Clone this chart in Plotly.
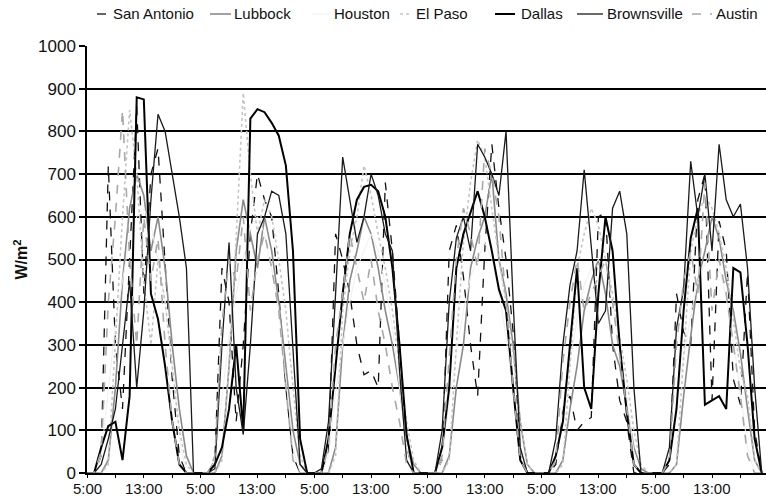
import plotly.graph_objects as go

# x categories: hourly samples 5:00..20:00 for 6 days (16 per day)
days = 6
x_idx = list(range(16 * days))
tick_vals = list(range(0, 16 * days, 8))
tick_text = ["5:00" if (v % 16) == 0 else "13:00" for v in tick_vals]

san_antonio = [
    0, 0, 40, 720, 300, 150, 500, 860, 420, 700, 760, 500, 220, 40, 0, 0,
    0, 0, 30, 480, 400, 120, 300, 560, 700, 640, 600, 420, 200, 40, 0, 0,
    0, 0, 50, 560, 500, 420, 300, 230, 240, 200, 680, 520, 300, 60, 0, 0,
    0, 0, 30, 520, 580, 460, 300, 180, 520, 770, 620, 500, 330, 50, 0, 0,
    0, 0, 20, 150, 180, 100, 120, 130, 600, 610, 300, 170, 120, 0, 0, 0,
    0, 0, 20, 420, 330, 300, 640, 700, 170, 590, 520, 220, 160, 470, 100, 0,
]
lubbock = [
    0, 0, 0, 30, 200, 450, 620, 700, 650, 520, 600, 480, 300, 150, 40, 0,
    0, 0, 0, 40, 250, 520, 640, 560, 480, 600, 520, 400, 250, 100, 20, 0,
    0, 0, 0, 60, 300, 450, 520, 600, 560, 480, 380, 300, 200, 80, 20, 0,
    0, 0, 0, 40, 200, 300, 480, 550, 600, 700, 500, 420, 300, 120, 20, 0,
    0, 0, 0, 30, 150, 250, 380, 450, 500, 420, 300, 250, 150, 60, 10, 0,
    0, 0, 0, 20, 180, 320, 450, 520, 600, 550, 450, 380, 280, 150, 30, 0,
]
houston = [
    0, 0, 40, 200, 350, 450, 550, 600, 620, 580, 500, 400, 250, 80, 0, 0,
    0, 0, 30, 180, 320, 420, 500, 580, 600, 560, 480, 380, 220, 60, 0, 0,
    0, 0, 40, 190, 300, 400, 480, 520, 560, 520, 440, 340, 200, 60, 0, 0,
    0, 0, 30, 170, 280, 380, 460, 500, 540, 500, 420, 320, 190, 50, 0, 0,
    0, 0, 30, 160, 260, 360, 440, 480, 500, 470, 400, 300, 180, 50, 0, 0,
    0, 0, 30, 170, 270, 370, 450, 490, 520, 480, 410, 310, 190, 60, 0, 0,
]
el_paso = [
    0, 0, 0, 20, 300, 600, 850, 700, 450, 300, 500, 400, 250, 100, 20, 0,
    0, 0, 0, 30, 250, 550, 890, 700, 560, 640, 600, 500, 380, 200, 40, 0,
    0, 0, 0, 40, 380, 520, 600, 720, 650, 560, 480, 380, 250, 120, 30, 0,
    0, 0, 0, 30, 300, 540, 680, 780, 740, 620, 500, 400, 280, 120, 20, 0,
    0, 0, 0, 20, 250, 480, 560, 620, 580, 500, 420, 320, 220, 100, 20, 0,
    0, 0, 0, 20, 280, 520, 600, 650, 620, 560, 480, 360, 240, 180, 30, 0,
]
dallas = [
    0, 0, 60, 110, 120, 30, 180, 880, 875, 420, 360, 250, 120, 20, 0, 0,
    0, 0, 20, 60, 150, 300, 100, 830, 852, 845, 820, 790, 720, 520, 80, 0,
    0, 0, 80, 250, 420, 560, 640, 670, 675, 660, 600, 480, 300, 90, 0, 0,
    0, 0, 60, 200, 480, 560, 610, 660, 600, 520, 430, 380, 200, 30, 0, 0,
    0, 0, 40, 120, 300, 480, 200, 150, 420, 600, 520, 300, 140, 20, 0, 0,
    0, 0, 30, 150, 380, 550, 620, 160, 170, 180, 150, 480, 470, 300, 80, 0,
]
brownsville = [
    0, 0, 20, 80, 150, 300, 450, 200, 380, 640, 840, 800, 700, 600, 480, 0,
    0, 0, 10, 300, 540, 200, 90, 300, 560, 600, 660, 650, 560, 300, 20, 0,
    0, 10, 120, 420, 740, 640, 540, 600, 700, 650, 560, 520, 240, 30, 0, 0,
    0, 0, 100, 400, 550, 600, 520, 770, 740, 700, 650, 800, 400, 60, 0, 0,
    0, 0, 80, 300, 440, 520, 710, 520, 350, 380, 620, 660, 560, 200, 0, 0,
    0, 0, 60, 340, 430, 730, 600, 700, 520, 770, 640, 600, 630, 480, 200, 0,
]
austin = [
    0, 0, 50, 400, 600, 850, 500, 300, 600, 450, 550, 300, 120, 20, 0, 0,
    0, 0, 40, 350, 500, 450, 600, 380, 500, 560, 480, 380, 200, 30, 0, 0,
    0, 0, 60, 300, 420, 560, 480, 400, 500, 380, 300, 200, 120, 20, 0, 0,
    0, 0, 40, 280, 500, 620, 560, 480, 760, 700, 600, 400, 200, 30, 0, 0,
    0, 0, 30, 260, 400, 500, 380, 420, 460, 500, 400, 280, 150, 20, 0, 0,
    0, 0, 30, 300, 450, 520, 420, 680, 380, 500, 420, 300, 180, 40, 0, 0,
]

series = [
    ("San Antonio", san_antonio, dict(color="#111111", width=1.3, dash="dash")),
    ("Lubbock", lubbock, dict(color="#8a8a8a", width=1.6, dash="solid")),
    ("Houston", houston, dict(color="#f0f0f0", width=1.0, dash="solid")),
    ("El Paso", el_paso, dict(color="#c4c4c4", width=1.6, dash="dot")),
    ("Dallas", dallas, dict(color="#000000", width=2.0, dash="solid")),
    ("Brownsville", brownsville, dict(color="#1a1a1a", width=1.3, dash="solid")),
    ("Austin", austin, dict(color="#a8a8a8", width=1.6, dash="dash")),
]

FONT = "Liberation Sans, Arial, sans-serif"

W, H = 766, 496
ML, MR, MT, MB = 87, 0, 46, 23
PW, PH = W - ML - MR, H - MT - MB

def px_x(px):
    return (px - ML) / PW

def px_y(py):
    return (H - MB - py) / PH

fig = go.Figure()
for name, vals, line in series:
    fig.add_trace(go.Scatter(x=x_idx, y=vals, mode="lines", name=name, line=line,
                             showlegend=False))

# legend drawn as shapes + text (line start px, line end px, text start px)
legend_pos = {
    "San Antonio": (97, 112, 111),
    "Lubbock": (210, 231, 232),
    "Houston": (312, 330, 332),
    "El Paso": (400, 411, 414),
    "Dallas": (495, 515, 519),
    "Brownsville": (577, 603, 605),
    "Austin": (692, 712, 714),
}
ly = 14
shapes = []
annotations = []
for name, vals, line in series:
    x0, x1, tx = legend_pos[name]
    shapes.append(dict(type="line", xref="paper", yref="paper",
                       x0=px_x(x0), x1=px_x(x1), y0=px_y(ly), y1=px_y(ly),
                       line=dict(color=line["color"], width=line["width"], dash=line["dash"])))
    annotations.append(dict(text=name, xref="paper", yref="paper", x=px_x(tx), y=px_y(ly),
                            xanchor="left", yanchor="middle", showarrow=False,
                            font=dict(family=FONT, size=15, color="#111111")))

# x tick labels as text placed just under the axis
for v, t in zip(tick_vals, tick_text):
    annotations.append(dict(text=t, xref="x", yref="paper", x=v, y=px_y(478),
                            xanchor="center", yanchor="top", showarrow=False,
                            font=dict(family=FONT, size=15, color="#111111")))

fig.update_layout(
    width=W, height=H,
    margin=dict(l=ML, r=MR, t=MT, b=MB),
    paper_bgcolor="white", plot_bgcolor="white",
    font=dict(family=FONT, size=16, color="#111111"),
    showlegend=False,
    shapes=shapes,
    annotations=annotations,
    xaxis=dict(range=[0, 95.6], tickmode="array", tickvals=tick_vals, showticklabels=False,
               showgrid=False, zeroline=False, showline=True, linecolor="black", linewidth=1.5,
               ticks="outside", ticklen=3, tickcolor="black", tickwidth=1,
               minor=dict(tick0=0, dtick=4, ticks="outside", ticklen=3, tickcolor="black",
                          tickwidth=1, showgrid=False),
               automargin=False),
    yaxis=dict(range=[0, 1000], tickvals=list(range(0, 1001, 100)),
               showgrid=True, gridcolor="black", gridwidth=1.5, zeroline=False,
               showline=True, linecolor="black", linewidth=1.5,
               ticks="outside", ticklen=6, tickcolor="black", tickwidth=1.5,
               tickfont=dict(family=FONT, size=17), automargin=False,
               title=dict(text="<b>W/m<sup>2</sup></b>", standoff=6,
                          font=dict(family=FONT, size=16))),
)

fig.write_html("out.html", config={"displayModeBar": False},
               post_script="document.body.style.margin='0';document.body.style.overflow='hidden';")
